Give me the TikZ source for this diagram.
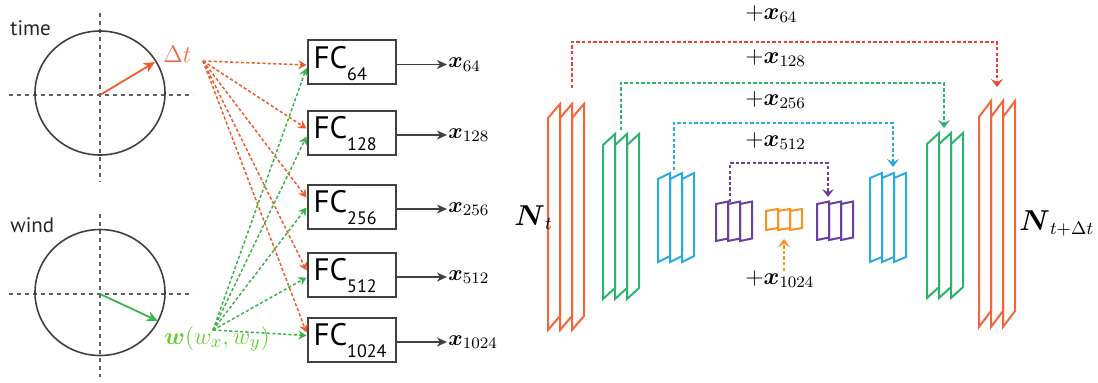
\documentclass[tikz,border=0pt]{standalone}
\usepackage{amsmath}
\usepackage{fontspec}
\newfontfamily\sansfam{PT Sans}
\usetikzlibrary{arrows.meta}

\definecolor{clkred}{HTML}{F15A29}
\definecolor{dtred}{HTML}{EE6C4D}
\definecolor{wgreen}{HTML}{66CC2E}
\definecolor{lgreen}{HTML}{39B54A}
\definecolor{skred}{HTML}{EE4035}
\definecolor{uorred}{HTML}{F26639}
\definecolor{ugreen}{HTML}{2EB36F}
\definecolor{ublue}{HTML}{29ABE2}
\definecolor{upurple}{HTML}{6B3FA0}
\definecolor{uorange}{HTML}{F7941D}
\definecolor{dgray}{HTML}{404040}

% FC label: name with a lowered index
\newcommand\fcl[1]{\makebox[38pt][l]{FC\raisebox{-6pt}{\fontsize{9}{9}\selectfont #1}}}

% three slanted panels side by side: colour, left x, top y, panel width, height, slant
\newcommand\panelstack[6]{%
  \foreach \i in {0,1,2}{%
    \draw[#1, stackline] ({#2+\i*#4},{#3}) -- ({#2+(\i+1)*#4},{#3-#6})
      -- ({#2+(\i+1)*#4},{#3+#5-#6}) -- ({#2+\i*#4},{#3+#5}) -- cycle;
  }}

\begin{document}
\begin{tikzpicture}[x=0.5pt,y=-0.5pt,
  stackline/.style={line width=1pt},
  skipline/.style={line width=0.75pt, dash pattern=on 1.7pt off 1.1pt,
    -{Stealth[length=4pt,width=6pt,inset=1.6pt]}},
  axisline/.style={dgray!85, line width=0.6pt, dash pattern=on 2pt off 2pt},
  clock/.style={dgray, line width=0.8pt},
  hand/.style={line width=0.9pt, -{Stealth[length=5.5pt,width=5pt,inset=1.5pt]}},
  feed/.style={line width=0.75pt, dash pattern=on 1.6pt off 1.1pt,
    -{Stealth[length=4pt,width=4.5pt,inset=1.3pt]}},
  fcbox/.style={draw=dgray, line width=1pt, minimum width=44pt, minimum height=22pt,
    inner sep=0pt, text height=6pt, text depth=0pt,
    font=\sansfam\fontsize{15.5}{16}\selectfont},
  fcarrow/.style={dgray, line width=0.9pt, -{Stealth[length=5pt,width=4.5pt,inset=1.5pt]}},
  xlab/.style={anchor=west, inner sep=0.5pt, font=\fontsize{11}{13}\selectfont},
  addlab/.style={anchor=base west, inner sep=0pt, font=\fontsize{12}{14}\selectfont},
  word/.style={anchor=base west, inner sep=0pt, font=\sansfam\fontsize{10.5}{12}\selectfont, text=black!85}
]
\useasboundingbox (0,0) rectangle (1098,382);

% ---- time clock ----
\node[word] (time) at (10,35) {time};
\draw[axisline] (9,95) -- (193,95);
\draw[axisline] (100,13) -- (100,182);
\draw[clock] (100,93) ellipse [x radius=65, y radius=62];
\coordinate (tc) at (100,95);
\coordinate (th) at (155,62);
\draw[hand, clkred] (tc) -- (th);
\node[anchor=base west, inner sep=0pt, text=dtred, font=\fontsize{12}{14}\selectfont] (dt) at (163,62) {$\Delta t$};
\coordinate (dto) at (203,61);

% ---- wind clock ----
\node[word] (wind) at (10,232) {wind};
\draw[axisline] (9,294) -- (193,294);
\draw[axisline] (100,214) -- (100,377);
\draw[clock] (100,292.5) ellipse [x radius=65, y radius=63];
\coordinate (wc) at (100,294);
\coordinate (wh) at (158,321);
\draw[hand, lgreen] (wc) -- (wh);
\node[anchor=base west, inner sep=0pt, text=wgreen, font=\fontsize{12.5}{14}\selectfont] (wv) at (164,344) {$\boldsymbol{w}(w_x,w_y)$};
\coordinate (wo) at (213,330);

% ---- FC blocks ----
\node[fcbox] (b64)   at (351.5,62)    {\fcl{64}};
\node[fcbox] (b128)  at (351.5,132.5) {\fcl{128}};
\node[fcbox] (b256)  at (351.5,206.5) {\fcl{256}};
\node[fcbox] (b512)  at (351.5,274.5) {\fcl{512}};
\node[fcbox] (b1024) at (351.5,339.5) {\fcl{1024}};

\node[xlab] (x64)   at (447,64.5)  {$\boldsymbol{x}_{64}$};
\node[xlab] (x128)  at (447,135)   {$\boldsymbol{x}_{128}$};
\node[xlab] (x256)  at (447,209)   {$\boldsymbol{x}_{256}$};
\node[xlab] (x512)  at (447,277)   {$\boldsymbol{x}_{512}$};
\node[xlab] (x1024) at (447,342)   {$\boldsymbol{x}_{1024}$};

\foreach \n in {64,128,256,512,1024}{
  \draw[fcarrow] ([yshift=-1.25pt]b\n.east) -- (x\n.west);
}

% time offset feeds every FC block
\draw[feed, clkred] (dto) -- ([yshift=-1.5pt]b64.west);
\draw[feed, clkred] (dto) -- ([yshift=2pt]b128.west);
\draw[feed, clkred] (dto) -- ([yshift=4.5pt]b256.west);
\draw[feed, clkred] (dto) -- ([yshift=2pt]b512.west);
\draw[feed, clkred] (dto) -- ([yshift=3.5pt]b1024.west);
% wind vector feeds every FC block
\draw[feed, lgreen] (wo) -- ([yshift=-3pt]b64.west);
\draw[feed, lgreen] (wo) -- ([yshift=-2pt]b128.west);
\draw[feed, lgreen] (wo) -- ([yshift=-0.5pt]b256.west);
\draw[feed, lgreen] (wo) -- ([yshift=-1.5pt]b512.west);
\draw[feed, lgreen] (wo) -- ([yshift=2pt]b1024.west);

% ---- U-Net ----
\panelstack{uorred}{548}{118}{12}{212}{14}
\panelstack{ugreen}{603}{145}{12}{154}{11}
\panelstack{ublue}{658}{179}{12}{83}{6}
\panelstack{upurple}{716}{204}{12}{37}{2.5}
\panelstack{uorange}{766}{211}{12}{19}{2}
\panelstack{upurple}{817}{204}{12}{36}{2.5}
\panelstack{ublue}{870}{178}{12}{84}{5}
\panelstack{ugreen}{927}{144}{12}{154}{11}
\panelstack{uorred}{979}{117}{12}{210}{16}

\node[anchor=base west, inner sep=0pt, font=\fontsize{13.5}{15}\selectfont] (nt) at (514,225) {$\boldsymbol{N}_t$};
\node[anchor=base west, inner sep=0pt, font=\fontsize{13.5}{15}\selectfont] (ntd) at (1019,230) {$\boldsymbol{N}_{t+\Delta t}$};

% skip connections
\coordinate (s1a) at (572,88);  \coordinate (s1b) at (997,87);
\coordinate (s2a) at (621,130); \coordinate (s2b) at (944,128);
\coordinate (s3a) at (674,170); \coordinate (s3b) at (893,167);
\coordinate (s4a) at (730,202); \coordinate (s4b) at (828,197);
\coordinate (s5b) at (784,239);
\draw[skipline, skred]   (s1a) -- ++(0,-46) -| (s1b);
\draw[skipline, ugreen]  (s2a) -- ++(0,-47) -| (s2b);
\draw[skipline, ublue]   (s3a) -- ++(0,-47) -| (s3b);
\draw[skipline, upurple] (s4a) -- ++(0,-39) -| (s4b);

\node[addlab] (a64)   at (745,19)  {$+\boldsymbol{x}_{64}$};
\node[addlab] (a128)  at (745,63)  {$+\boldsymbol{x}_{128}$};
\node[addlab] (a256)  at (745,105) {$+\boldsymbol{x}_{256}$};
\node[addlab] (a512)  at (745,146) {$+\boldsymbol{x}_{512}$};
\node[addlab] (a1024) at (745,284) {$+\boldsymbol{x}_{1024}$};
\coordinate (s5a) at (784,271);
\draw[skipline, uorange] (s5a) -- (s5b);
\end{tikzpicture}
\end{document}
